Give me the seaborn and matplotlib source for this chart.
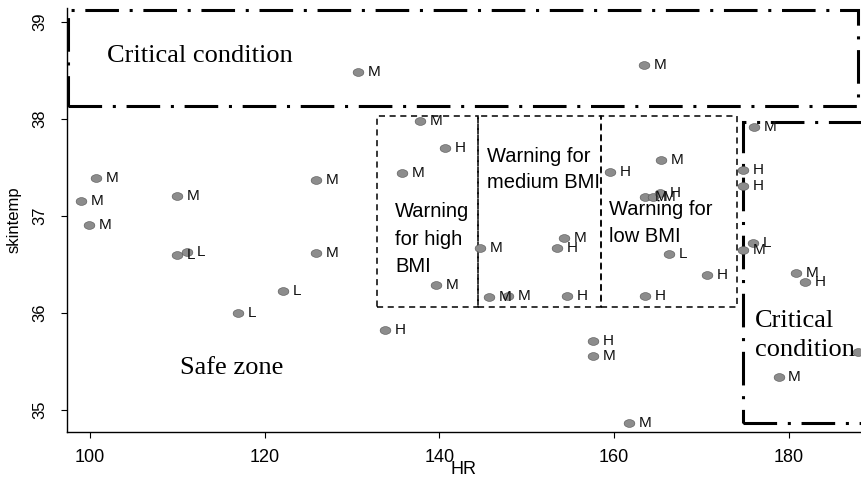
import numpy as np
import pandas as pd
import seaborn as sns
import matplotlib
matplotlib.use('agg')
import matplotlib.pyplot as plt
from matplotlib.patches import Rectangle
from matplotlib.path import Path

# heart rate / skin temperature readings with BMI class (L / M / H)
hr = [130.7, 163.4, 100.7, 99.0, 99.9, 110.0, 110.0, 111.1, 125.9, 125.9,
      122.1, 116.9, 133.8, 137.8, 135.7, 140.6, 139.6, 144.6, 145.7, 147.8,
      154.6, 153.4, 154.3, 159.5, 165.3, 163.5, 164.4, 165.2, 166.3, 170.6,
      163.5, 157.6, 157.6, 161.7, 176.0, 174.7, 174.7, 175.9, 174.7, 180.8,
      181.8, 178.8, 187.9]
skintemp = [38.48, 38.56, 37.39, 37.15, 36.91, 37.21, 36.60, 36.63, 37.37, 36.62,
            36.23, 36.00, 35.82, 37.98, 37.44, 37.70, 36.29, 36.67, 36.16, 36.17,
            36.18, 36.67, 36.77, 37.45, 37.58, 37.20, 37.20, 37.24, 36.61, 36.39,
            36.18, 35.71, 35.56, 34.87, 37.92, 37.47, 37.31, 36.72, 36.65, 36.41,
            36.32, 35.34, 35.60]
bmi = ['M', 'M', 'M', 'M', 'M', 'M', 'L', 'L', 'M', 'M',
       'L', 'L', 'H', 'M', 'M', 'H', 'M', 'M', 'M', 'M',
       'H', 'H', 'M', 'H', 'M', 'M', 'M', 'H', 'L', 'H',
       'H', 'H', 'M', 'M', 'M', 'H', 'H', 'L', 'M', 'M',
       'H', 'M', 'M']

# zones: (x0, x1, y0, y1)
critical_top = (97.5, 187.9, 38.13, 39.12)
critical_right = (174.7, 191.0, 34.87, 37.97)
warn_edges = [132.8, 144.4, 158.5, 174.0]
warn_y = (36.06, 38.03)

df = pd.DataFrame({'HR': hr, 'skintemp': skintemp, 'bmi': bmi})

sns.set_style('ticks')
plt.rcParams['font.family'] = ['Liberation Sans', 'DejaVu Sans']
plt.rcParams['text.color'] = 'black'
plt.rcParams['axes.labelcolor'] = 'black'

fig = plt.figure(figsize=(8.61, 4.8), dpi=100)
ax = fig.add_axes([67 / 861, 48 / 480, 794 / 861, 424 / 480])

t = np.linspace(0, 2 * np.pi, 41)
ell = Path(np.column_stack([np.cos(t), 0.72 * np.sin(t)]))
sns.scatterplot(data=df, x='HR', y='skintemp', ax=ax, marker=ell, s=60,
                color='#8c8c8c', edgecolor='#505050', linewidth=0.4, zorder=3)
for x, y, lab in zip(hr, skintemp, bmi):
    ax.annotate(lab, (x, y), xytext=(7, 0), textcoords='offset points',
                va='center', ha='left', fontsize=11, color='#111111', zorder=4)

dashdot = (0, (11, 3.5, 1, 3.5))
x0, x1, y0, y1 = critical_top
ax.add_patch(Rectangle((x0, y0), x1 - x0, y1 - y0, fill=False, lw=2.2,
                       ls=dashdot, ec='black', clip_on=False, zorder=2))
x0, x1, y0, y1 = critical_right
ax.add_patch(Rectangle((x0, y0), x1 - x0, y1 - y0, fill=False, lw=2.2,
                       ls=dashdot, ec='black', zorder=2))
for a, b in zip(warn_edges[:-1], warn_edges[1:]):
    ax.add_patch(Rectangle((a, warn_y[0]), b - a, warn_y[1] - warn_y[0], fill=False,
                           lw=1.1, ls=(0, (4, 3)), ec='black', zorder=2))

serif = ['Liberation Serif', 'DejaVu Serif']
ax.text(101.9, 38.65, 'Critical condition', family=serif, fontsize=19, va='center')
ax.text(110.3, 35.43, 'Safe zone', family=serif, fontsize=19, va='center')
ax.text(176.1, 35.77, 'Critical\ncondition', family=serif, fontsize=19,
        va='center', linespacing=1.4)
ax.text(134.9, 36.76, 'Warning\nfor high\nBMI', fontsize=14.5, va='center', linespacing=1.58)
ax.text(145.4, 37.48, 'Warning for\nmedium BMI', fontsize=14.5, va='center', linespacing=1.5)
ax.text(159.4, 36.93, 'Warning for\nlow BMI', fontsize=14.5, va='center', linespacing=1.55)

ax.set_xlim(97.37, 188.24)
ax.set_ylim(34.773, 39.144)
ax.set_xticks([100, 120, 140, 160, 180])
ax.set_yticks([35, 36, 37, 38, 39])
ax.tick_params(axis='x', labelsize=13, length=4, width=0.8, pad=8, colors='black')
ax.tick_params(axis='y', labelsize=12, length=4, width=0.8, pad=10, colors='black',
               labelrotation=90)
for lab in ax.get_yticklabels():
    lab.set_va('center')
ax.set_xlabel('HR', fontsize=13, labelpad=-3)
ax.set_ylabel('skintemp', fontsize=12, labelpad=8)
sns.despine(ax=ax)
for s in ['left', 'bottom']:
    ax.spines[s].set_linewidth(1.0)
    ax.spines[s].set_color('black')

fig.savefig('out.png', dpi=100)
